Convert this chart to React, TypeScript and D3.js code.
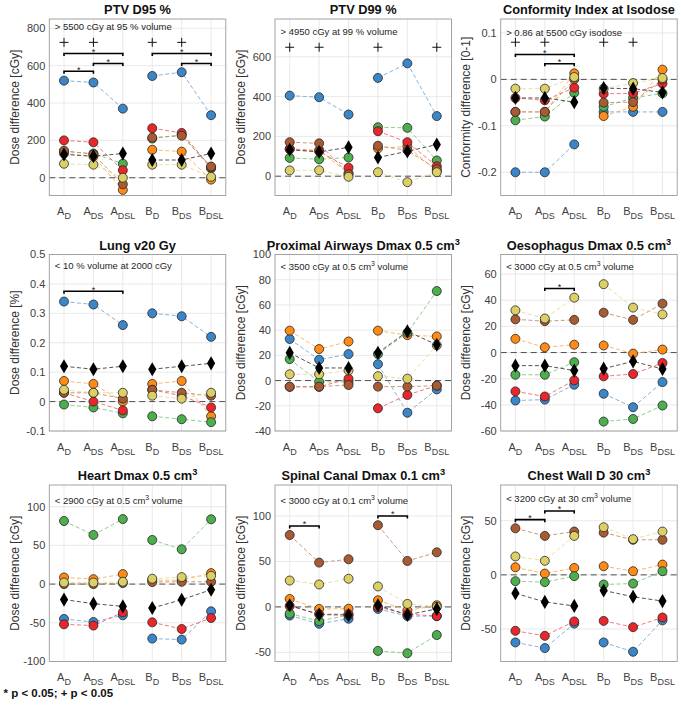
import { useEffect, useRef } from 'react';
import * as d3 from 'd3';

// categories on the x axis (main letter + subscript)
const catMain = ['A', 'A', 'A', 'B', 'B', 'B'];
const catSub = ['D', 'DS', 'DSL', 'D', 'DS', 'DSL'];

// series order in every panel: blue, orange, green, red, brown, yellow, black (median)
const ptvD95 = [
  [520, 510, 370, 545, 565, 335],
  [130, 115, -65, 150, 140, -10],
  [140, 130, 75, 210, 230, 50],
  [200, 190, 40, 265, 240, 55],
  [145, 125, -35, 215, 225, 60],
  [75, 70, 0, 70, 70, 5],
  [125, 115, 130, 95, 95, 130],
];
const ptvD99 = [
  [405, 397, 310, 494, 567, 302],
  [138, 130, 15, 140, 150, 25],
  [92, 85, 94, 246, 243, 79],
  [135, 125, 43, 226, 171, 50],
  [171, 165, 10, 153, 130, 35],
  [29, 30, -3, 20, -30, 20],
  [133, 122, 145, 94, 125, 159],
];
const conformity = [
  [-0.2, -0.2, -0.14, -0.07, -0.07, -0.07],
  [-0.07, -0.07, 0.013, -0.079, -0.059, 0.021],
  [-0.088, -0.08, -0.029, -0.059, -0.04, -0.03],
  [-0.04, -0.045, -0.018, -0.031, -0.03, -0.009],
  [-0.07, -0.07, 0.0, -0.05, -0.049, 0.0],
  [-0.02, -0.02, 0.005, -0.02, -0.008, 0.003],
  [-0.04, -0.04, -0.049, -0.019, -0.02, -0.028],
];
const lungV20 = [
  [0.34, 0.33, 0.26, 0.3, 0.29, 0.22],
  [0.07, 0.06, 0.0, 0.06, 0.07, -0.05],
  [-0.01, -0.02, -0.04, -0.05, -0.06, -0.07],
  [0.03, 0.0, -0.03, 0.04, 0.02, -0.02],
  [0.03, 0.03, 0.01, 0.04, 0.03, 0.02],
  [0.04, 0.03, 0.03, 0.02, 0.01, 0.03],
  [0.12, 0.11, 0.12, 0.11, 0.12, 0.13],
];
const airways = [
  [33, 16.5, 21, 13, -25.5, -7],
  [39.6, 25, 31, 39.6, 36, 35],
  [17, -1, -1, 21, 38, 71],
  [-5, -5, 1.5, -22, -11.4, -4],
  [-4.8, -4.8, -3.5, -4.8, -4.8, -4],
  [5, 5, 8, 3.5, 1.5, 28],
  [22, 10, 10, 22, 39, 28.4],
];
const oesophagus = [
  [-36.7, -36, -24.6, -31.5, -41.8, -22.6],
  [10.5, 4, 6, 5.4, -0.8, 2.3],
  [-17, -17, -7.4, -52.8, -50.8, -40.5],
  [-29.7, -33.6, -21.3, -18.2, -16.4, -8],
  [25.4, 24, 25, 30.5, 25, 37.4],
  [32.3, 26, 42, 52.3, 34.4, 29.2],
  [-10, -10, -13.8, -12.3, -6.7, -12.6],
];
const heart = [
  [-45, -49, -40.3, -70.4, -71.7, -35.2],
  [8.6, 6.4, 12.9, 5, 5, 14.2],
  [81.5, 63.5, 84, 57, 45, 83.7],
  [-52, -53.6, -36.5, -49.4, -58, -43.8],
  [0, 0, 1.3, 2.6, 3, 3],
  [2, 2, 3, 6.9, 9, 10.7],
  [-20, -25.3, -28.8, -30.9, -20.2, -7.3],
];
const spinal = [
  [-9.5, -18.5, -13, -2.2, -10, -10.2],
  [8.7, -2.2, -2, 7.3, -4, 1.8],
  [-7.3, -15.6, -9, -48.4, -50.9, -30.9],
  [1, -8, -8, 0, -8, -10],
  [79, 48.7, 52.4, 89.8, 50.5, 60],
  [29, 24.7, 31, 22.5, 3.3, 0],
  [1.8, -8.4, -9, 1.8, -8.7, -2.2],
];
const chestWall = [
  [-62.4, -67.6, -45, -62.4, -71, -42],
  [7, 1.2, 6.4, 8, 3.4, 9.5],
  [-5.8, -6.7, -1.2, -8.9, -8, 3.4],
  [-51.7, -56.3, -43, -42.5, -48.3, -39.4],
  [43, 36, 40, 39, 32.4, 32.4],
  [17, 13, 36, 44, 33, 40],
  [-17, -25, -28.7, -14.4, -20.2, -24.2],
];
const panelData = [ptvD95, ptvD99, conformity, lungV20, airways, oesophagus, heart, spinal, chestWall];

const titles = [
  'PTV D95 %', 'PTV D99 %', 'Conformity Index at Isodose',
  'Lung v20 Gy', 'Proximal Airways Dmax 0.5 cm^3', 'Oesophagus Dmax 0.5 cm^3',
  'Heart Dmax 0.5 cm^3', 'Spinal Canal Dmax 0.1 cm^3', 'Chest Wall D 30 cm^3',
];
const notes = [
  '> 5500 cGy at 95 % volume', '> 4950 cGy at 99 % volume', '> 0.86 at 5500 cGy isodose',
  '< 10 % volume at 2000 cGy', '< 3500 cGy at 0.5 cm^3 volume', '< 3000 cGy at 0.5 cm^3 volume',
  '< 2900 cGy at 0.5 cm^3 volume', '< 3000 cGy at 0.1 cm^3 volume', '< 3200 cGy at 30 cm^3 volume',
];
const yLabels = [
  'Dose difference [cGy]', 'Dose difference [cGy]', 'Conformity difference [0-1]',
  'Dose difference [%]', 'Dose difference [cGy]', 'Dose difference [cGy]',
  'Dose difference [cGy]', 'Dose difference [cGy]', 'Dose difference [cGy]',
];
const yDomains = [
  [-95, 850], [-97, 790], [-0.25, 0.13],
  [-0.1, 0.5], [-40, 100], [-60, 75],
  [-100, 128], [-60, 134], [-80, 83],
];
const yTicks = [
  [0, 200, 400, 600, 800], [0, 200, 400, 600], [-0.2, -0.1, 0, 0.1],
  [-0.1, 0, 0.1, 0.2, 0.3, 0.4, 0.5], [-40, -20, 0, 20, 40, 60, 80, 100], [-60, -40, -20, 0, 20, 40, 60],
  [-100, -50, 0, 50, 100], [-50, 0, 50, 100], [-50, 0, 50],
];
// "+" marks: category indexes and the level they sit at
const plusCats = [[0, 1, 3, 4], [0, 1, 3, 5], [0, 1, 3, 4], [], [], [], [], [], []];
const plusLevel = [725, 648, 0.08, 0, 0, 0, 0, 0, 0];
// significance bars: [from, to, level]
const sigBars = [
  [[0, 2, 665], [1, 2, 612], [0, 1, 570], [3, 5, 665], [4, 5, 612]],
  [],
  [[0, 2, 0.0535], [1, 2, 0.0335]],
  [[0, 2, 0.375]],
  [],
  [[1, 2, 49]],
  [],
  [[0, 1, 89], [3, 4, 100]],
  [[0, 1, 51], [1, 2, 59]],
];

const COLORS = ['#3a86c8', '#ff8a14', '#4cae4c', '#e8262b', '#a85a33', '#dccf66'];
const FONT = '"Liberation Sans", Arial, Helvetica, sans-serif';
const COL_LEFT = [49.3, 275, 500.7];
const ROW_TOP = [19, 254.5, 485];
const BOX_W = 176.5;
const BOX_H = 176.5;
const NOTE_OFF = [7.7, 12.7, 13.3, 10.7, 12.4, 12.4, 15.5, 15.5, 14]; // note centre below box top

const fmt = (v: number) => String(+v.toFixed(2));

// text with "^x" superscripts
function rich(el: any, str: string, rise: number) {
  const parts = str.split(/\^(\S)/);
  parts.forEach((p, i) => {
    if (i % 2 === 1) el.append('tspan').attr('dy', -rise).attr('font-size', '0.72em').text(p);
    else if (p.length) {
      const t = el.append('tspan').text(p);
      if (i > 0) t.attr('dy', rise);
    }
  });
}

function drawPanel(svg: any, k: number) {
  const left = COL_LEFT[k % 3];
  const top = ROW_TOP[Math.floor(k / 3)];
  const bottom = top + BOX_H;
  const x = d3.scalePoint<number>().domain(d3.range(6)).range([left, left + BOX_W]).padding(0.5);
  const y = d3.scaleLinear().domain(yDomains[k]).range([bottom, top]);
  const g = svg.append('g').attr('font-family', FONT);

  // grid
  g.append('g').selectAll('line').data(d3.range(6)).join('line')
    .attr('x1', (d: number) => x(d)).attr('x2', (d: number) => x(d))
    .attr('y1', top).attr('y2', bottom)
    .attr('stroke', '#e3e3e3').attr('stroke-width', 0.8);
  g.append('g').selectAll('line').data(yTicks[k]).join('line')
    .attr('x1', left).attr('x2', left + BOX_W)
    .attr('y1', (d: number) => y(d)).attr('y2', (d: number) => y(d))
    .attr('stroke', '#e3e3e3').attr('stroke-width', 0.8);

  // zero line
  g.append('line')
    .attr('x1', left).attr('x2', left + BOX_W).attr('y1', y(0)).attr('y2', y(0))
    .attr('stroke', '#505050').attr('stroke-width', 1).attr('stroke-dasharray', '6,4');

  // box
  g.append('rect').attr('x', left).attr('y', top).attr('width', BOX_W).attr('height', BOX_H)
    .attr('fill', 'none').attr('stroke', '#9a9a9a').attr('stroke-width', 0.9);

  // y tick labels
  g.append('g').selectAll('text').data(yTicks[k]).join('text')
    .attr('x', left - 4).attr('y', (d: number) => y(d)).attr('dy', '0.36em')
    .attr('text-anchor', 'end').attr('font-size', 11).attr('fill', '#404040')
    .text((d: number) => fmt(d));

  // x tick labels with subscripts
  catMain.forEach((m, i) => {
    const t = g.append('text').attr('x', x(i)).attr('y', bottom + 19.5)
      .attr('text-anchor', 'middle').attr('font-size', 11).attr('fill', '#404040');
    t.append('tspan').text(m);
    t.append('tspan').attr('dy', 4).attr('font-size', 9).text(catSub[i]);
  });

  // y label
  g.append('text')
    .attr('transform', `translate(${left - 30.5},${top + BOX_H / 2}) rotate(-90)`)
    .attr('text-anchor', 'middle').attr('font-size', 12).attr('fill', '#333')
    .text(yLabels[k]);

  // dashed connecting lines, A group and B group separately
  const rows = panelData[k];
  rows.forEach((vals, s) => {
    const c = s < 6 ? d3.interpolateRgb(COLORS[s], '#ffffff')(0.3) : '#404040';
    [[0, 1, 2], [3, 4, 5]].forEach(grp => {
      const line = d3.line<number>().x(i => x(i) as number).y(i => y(vals[i]));
      g.append('path').attr('d', line(grp)).attr('fill', 'none')
        .attr('stroke', c).attr('stroke-width', 0.9).attr('stroke-dasharray', '4,2.5');
    });
  });

  // markers
  rows.forEach((vals, s) => {
    if (s === 6) return;
    g.append('g').selectAll('circle').data(vals).join('circle')
      .attr('cx', (_: number, i: number) => x(i)).attr('cy', (d: number) => y(d)).attr('r', 4.5)
      .attr('fill', COLORS[s]).attr('stroke', '#262626').attr('stroke-width', 0.8);
  });
  const diamond = d3.symbol().type(d3.symbolDiamond).size(58);
  g.append('g').selectAll('path').data(rows[6]).join('path')
    .attr('transform', (d: number, i: number) => `translate(${x(i)},${y(d)})`)
    .attr('d', diamond()).attr('fill', '#000');

  // "+" marks
  plusCats[k].forEach(i => {
    const px = x(i) as number, py = y(plusLevel[k]);
    g.append('path').attr('d', `M${px - 4.5},${py}H${px + 4.5}M${px},${py - 4.5}V${py + 4.5}`)
      .attr('stroke', '#111').attr('stroke-width', 1);
  });

  // significance bars
  sigBars[k].forEach(([a, b, lv]) => {
    const x1 = x(a) as number, x2 = x(b) as number, py = y(lv);
    g.append('path').attr('d', `M${x1},${py + 2.5}V${py}H${x2}V${py + 2.5}`)
      .attr('fill', 'none').attr('stroke', '#000').attr('stroke-width', 1.6);
    g.append('text').attr('x', (x1 + x2) / 2).attr('y', py + 1.5).attr('text-anchor', 'middle')
      .attr('font-size', 9).attr('fill', '#222').text('*');
  });

  // note
  const note = g.append('text').attr('x', left + 5.5).attr('y', top + NOTE_OFF[k] + 3.4)
    .attr('font-size', 9.5).attr('fill', '#262626');
  rich(note, notes[k], 4);

  // title
  const title = g.append('text').attr('x', left + BOX_W / 2).attr('y', top - 5)
    .attr('text-anchor', 'middle').attr('font-size', 12.8).attr('font-weight', 'bold').attr('fill', '#111');
  rich(title, titles[k], 5);
}

export default function App() {
  const ref = useRef<SVGSVGElement>(null);

  useEffect(() => {
    const svg = d3.select(ref.current);
    svg.selectAll('*').remove();
    svg.append('rect').attr('width', 681).attr('height', 705).attr('fill', '#fff');
    panelData.forEach((_, k) => drawPanel(svg, k));
    svg.append('text').attr('x', 3.5).attr('y', 697).attr('font-family', FONT)
      .attr('font-size', 11.5).attr('font-weight', 'bold').attr('fill', '#111')
      .text('* p < 0.05; + p < 0.05');
  }, []);

  return (
    <svg ref={ref} width={681} height={705}
      style={{ position: 'absolute', left: 0, top: 0, display: 'block' }} />
  );
}
